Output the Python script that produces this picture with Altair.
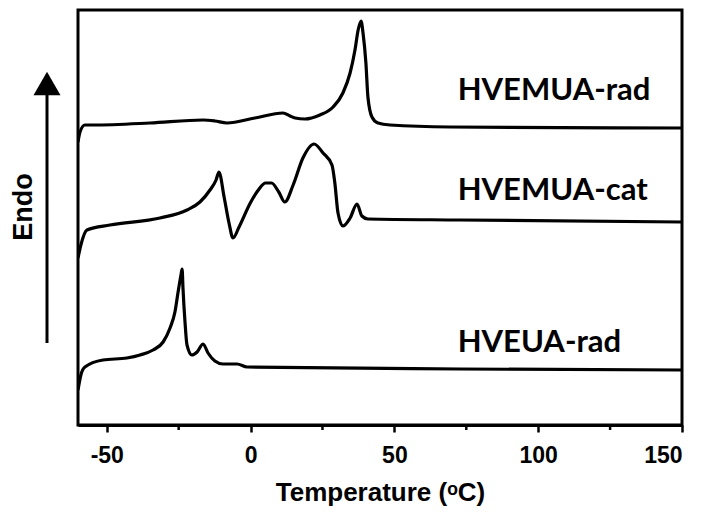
import altair as alt
import pandas as pd

# ---- data (x = temperature in degC, y = heat flow, arbitrary units) ----
series_names = ["HVEMUA-rad", "HVEMUA-cat", "HVEUA-rad"]

t_emua_rad = [-60, -59.3, -57.6, -54.8, -35.0, -16.5, -12.4, -8.2, 1.5, 11.3, 13.7, 15.5,
              18.9, 24.1, 28.7, 32.1, 34.6, 36.3, 37.4, 38.4, 39.1, 40.1, 40.8, 42.2, 44.3,
              48.5, 69.3, 150]
v_emua_rad = [283, 293, 300, 300, 302, 305, 304, 302, 307, 312, 309, 307,
              306, 310, 318, 332, 352, 375, 395, 404, 392, 362, 328, 308, 302,
              300, 298, 297]

t_emua_cat = [-60, -59.0, -56.9, -48.9, -31.5, -22.1, -17.6, -14.1, -12.0, -11.0, -9.2, -7.5,
              -6.1, -4.0, -0.1, 2.7, 5.2, 7.3, 9.8, 11.9, 14.8, 18.2, 22.1, 25.2, 28.3,
              29.3, 30.4, 32.1, 34.6, 37.0, 38.7, 40.8, 72.8, 150]
v_emua_cat = [167, 180, 195, 200, 207, 215, 223, 235, 245, 253, 228, 202,
              187, 198, 222, 235, 242, 242, 233, 223, 240, 267, 281, 272, 260,
              242, 212, 199, 207, 221, 209, 206, 205, 203]

t_eua_rad = [-60, -59.0, -57.6, -51.3, -43.0, -38.4, -33.9, -30.4, -28.0, -26.3, -25.2, -24.2,
             -23.8, -23.5, -22.8, -22.1, -20.4, -18.6, -16.5, -14.8, -12.4, -9.6, -4.7, -1.2,
             72.8, 150]
v_eua_rad = [35, 50, 58, 65, 67, 70, 75, 83, 97, 113, 133, 150,
             156, 137, 103, 80, 70, 73, 81, 72, 64, 61, 61, 58,
             56, 55]

label_x = [72, 72, 72]
label_y = [334, 234, 82]

x_ticks = [-50, 0, 50, 100, 150]
x_minor = [-25, 25, 75, 125]

# ---- tables ----
rows = []
for name, ts, vs in zip(series_names, [t_emua_rad, t_emua_cat, t_eua_rad],
                        [v_emua_rad, v_emua_cat, v_eua_rad]):
    for t, v in zip(ts, vs):
        rows.append({"series": name, "T": t, "v": v})
curves = pd.DataFrame(rows)
labels = pd.DataFrame({"name": series_names, "T": label_x, "v": label_y})
minor = pd.DataFrame({"T": x_minor})

x_scale = alt.Scale(domain=[-60, 150], nice=False, zero=False)
y_scale = alt.Scale(domain=[0, 415], nice=False, zero=False)

lines = alt.Chart(curves).mark_line(
    color="black", strokeWidth=3.2, interpolate="monotone", clip=True
).encode(
    x=alt.X("T:Q", scale=x_scale,
            axis=alt.Axis(values=x_ticks, title="Temperature (ᵒC)", grid=False,
                          labelExpr="'' + datum.value",
                          tickSize=7, tickWidth=2.5, tickColor="black",
                          domainColor="black", domainWidth=3,
                          labelFont="Liberation Sans", labelFontSize=23,
                          labelFontWeight="bold", labelColor="black", labelPadding=12,
                          titleFont="Liberation Sans", titleFontSize=26,
                          titleFontWeight="bold", titleColor="black", titlePadding=12)),
    y=alt.Y("v:Q", scale=y_scale, axis=None),
    detail="series:N",
)

minor_ticks = alt.Chart(minor).mark_rule(color="black", strokeWidth=2.5, clip=False).encode(
    x=alt.X("T:Q", scale=x_scale),
    y=alt.value(415),
    y2=alt.value(420),
)

text = alt.Chart(labels).mark_text(
    font="Lato", fontSize=31, fontWeight="bold", align="left", baseline="middle", color="black"
).encode(
    x=alt.X("T:Q", scale=x_scale),
    y=alt.Y("v:Q", scale=y_scale),
    text="name:N",
)

endo = alt.Chart(pd.DataFrame({"t": ["Endo"]})).mark_text(
    font="Liberation Sans", fontSize=27, fontWeight="bold", angle=270,
    align="center", baseline="middle", color="black", clip=False
).encode(x=alt.value(-54), y=alt.value(197), text="t:N")

arrow_line = alt.Chart(pd.DataFrame({"a": [0]})).mark_rule(
    color="black", strokeWidth=3, clip=False
).encode(x=alt.value(-31), y=alt.value(82), y2=alt.value(333))

arrow_head = alt.Chart(pd.DataFrame({"a": [0]})).mark_point(
    shape="triangle-up", size=729, filled=True, color="black", opacity=1, clip=False
).encode(x=alt.value(-31), y=alt.value(73.5))

chart = alt.layer(lines, minor_ticks, text, endo, arrow_line, arrow_head).properties(
    width=604, height=415,
    autosize=alt.AutoSizeParams(type="none"),
    padding={"left": 70, "top": 2, "right": 15, "bottom": 98},
).configure_view(stroke="black", strokeWidth=3)

chart.save("out.html", embed_options={"renderer": "svg", "actions": False})
